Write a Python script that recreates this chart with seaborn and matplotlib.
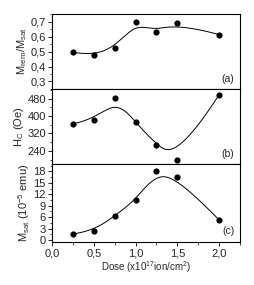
import matplotlib
matplotlib.use('Agg')
import matplotlib.pyplot as plt
import matplotlib.ticker as mticker
import numpy as np
import pandas as pd
import seaborn as sns

# dose values (x10^17 ion/cm2)
dose = [0.25, 0.5, 0.75, 1.0, 1.25, 1.5, 2.0]
# remanence ratio Mrem/Msat
mr_ms = [0.495, 0.474, 0.522, 0.695, 0.63, 0.69, 0.614]
# coercive field (Oe)
hc = [365, 382, 483, 373, 266, 200, 498]
# saturation magnetization (10^-5 emu)
msat = [1.6, 2.4, 6.4, 10.4, 18.0, 16.5, 5.3]


def bspline(px, py, n=200):
    # clamped cubic B-spline, data points used as control points (Origin style)
    p = np.column_stack([px, py]).astype(float)
    k = 3
    m = len(p)
    knots = np.concatenate([np.zeros(k), np.arange(m - k + 1), np.full(k, m - k)]).astype(float)
    t = np.linspace(0, m - k, n)
    t[-1] -= 1e-9

    def basis(i, kk, tt):
        if kk == 0:
            return ((knots[i] <= tt) & (tt < knots[i + 1])).astype(float)
        a = 0.0
        d1 = knots[i + kk] - knots[i]
        if d1 > 0:
            a = (tt - knots[i]) / d1 * basis(i, kk - 1, tt)
        b = 0.0
        d2 = knots[i + kk + 1] - knots[i + 1]
        if d2 > 0:
            b = (knots[i + kk + 1] - tt) / d2 * basis(i + 1, kk - 1, tt)
        return a + b

    B = np.array([basis(i, k, t) for i in range(m)])
    c = B.T @ p
    return c[:, 0], c[:, 1]


sns.set_style('ticks')
plt.rcParams['font.family'] = ['Liberation Sans', 'DejaVu Sans']
plt.rcParams['mathtext.fontset'] = 'custom'
plt.rcParams['mathtext.rm'] = 'Liberation Sans'
plt.rcParams['mathtext.it'] = 'Liberation Sans'

fig = plt.figure(figsize=(2.55, 2.85), dpi=100)
left, right = 0.204, 0.941
bounds = [0.951, 0.688, 0.425, 0.151]
axes = []
for i in range(3):
    ax = fig.add_axes([left, bounds[i + 1], right - left, bounds[i] - bounds[i + 1]])
    axes.append(ax)

comma1 = mticker.FuncFormatter(lambda v, pos: ('%.1f' % v).replace('.', ','))

series = [
    (mr_ms, r'M$_{\mathrm{rem}}$/M$_{\mathrm{sat}}$', (0.25, 0.752), 0.1, 0.05, '(a)', comma1),
    (hc, r'H$_{\mathrm{C}}$ (Oe)', (180, 525), 80, 40, '(b)', None),
    (msat, r'M$_{\mathrm{sat}}$ (10$^{-5}$ emu)', (-0.5, 20), 3, 1.5, '(c)', None),
]

for ax, (vals, lab, ylim, maj, mnr, tag, fmt) in zip(axes, series):
    df = pd.DataFrame({'dose': dose, 'val': vals})
    cx, cy = bspline(dose, vals)
    ax.plot(cx, cy, color='black', lw=0.7)
    sns.scatterplot(data=df, x='dose', y='val', ax=ax, color='black', s=20,
                    edgecolor='black', linewidth=0, zorder=3)
    ax.set_xlim(0, 2.25)
    ax.set_ylim(*ylim)
    ax.yaxis.set_major_locator(mticker.MultipleLocator(maj))
    ax.yaxis.set_minor_locator(mticker.MultipleLocator(mnr))
    ax.xaxis.set_major_locator(mticker.MultipleLocator(0.5))
    ax.xaxis.set_minor_locator(mticker.MultipleLocator(0.25))
    if fmt is not None:
        ax.yaxis.set_major_formatter(fmt)
    ax.tick_params(which='major', direction='out', length=3, width=0.7, labelsize=8, pad=1.5)
    ax.tick_params(which='minor', direction='out', length=1.8, width=0.6)
    for s in ax.spines.values():
        s.set_linewidth(0.8)
        s.set_color('black')
    ax.set_ylabel(lab, fontsize=8, labelpad=1)
    ax.set_xlabel('')
    ax.text(0.97, 0.07, tag, transform=ax.transAxes, ha='right', va='bottom', fontsize=7.5)
    if ax is not axes[2]:
        ax.tick_params(axis='x', labelbottom=False)

axes[0].set_yticks([0.3, 0.4, 0.5, 0.6, 0.7])
axes[1].set_yticks([240, 320, 400, 480])
axes[2].set_yticks([0, 3, 6, 9, 12, 15, 18])
axes[2].xaxis.set_major_formatter(comma1)
axes[2].set_xlabel(r'Dose (x10$^{17}$ion/cm$^{2}$)', fontsize=7, labelpad=1)

fig.savefig('out.png', dpi=100)
